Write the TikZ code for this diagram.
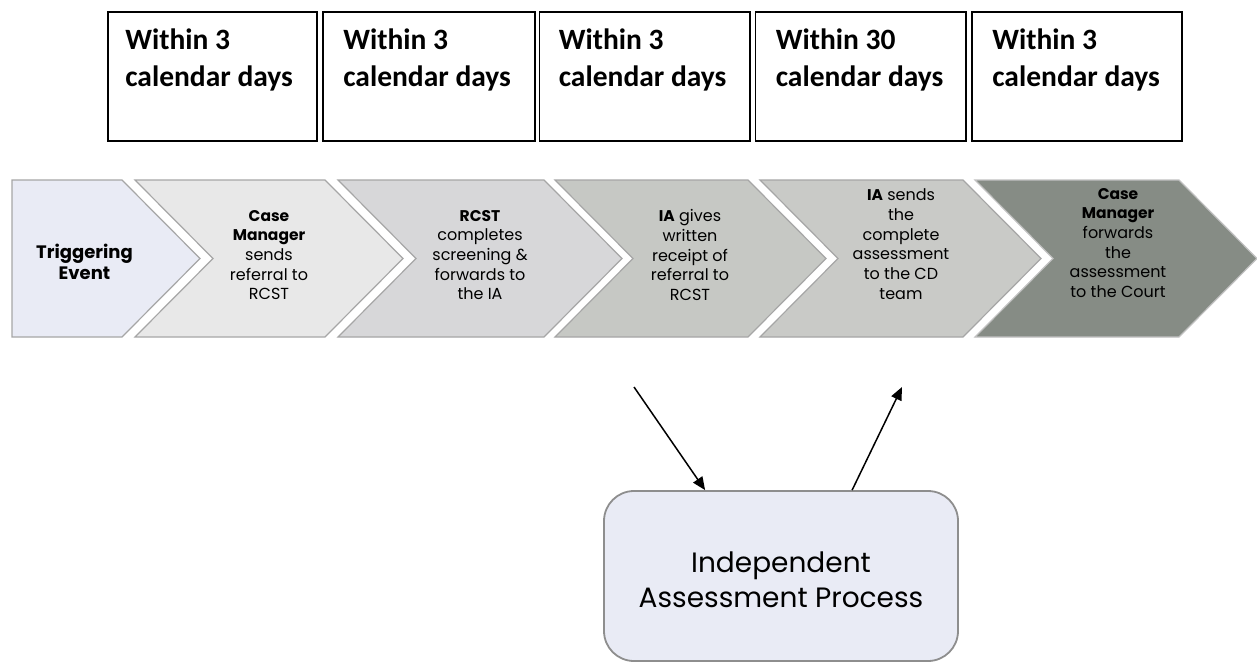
\documentclass[tikz,border=0pt]{standalone}
\usepackage{fontspec}
\setmainfont{Carlito}
\newfontfamily\gothic{Poppins}
\usetikzlibrary{arrows.meta,calc}
\definecolor{cA}{HTML}{E9EBF5}
\definecolor{cB}{HTML}{E8E8E8}
\definecolor{cC}{HTML}{D7D7D9}
\definecolor{cD}{HTML}{C6C8C4}
\definecolor{cE}{HTML}{C9CAC7}
\definecolor{cF}{HTML}{868C85}
\definecolor{bord}{HTML}{A6A6A6}
\definecolor{iapbord}{HTML}{8E8E8E}
\newcommand{\bw}[1]{{\fontsize{15.5}{19.5}\selectfont\bfseries #1}}
\tikzset{
  daybox/.style={draw=black, line width=1.8pt, inner sep=0pt, minimum height=129pt},
  daytext/.style={anchor=north west, inner sep=0pt, align=left, font=\bfseries\fontsize{29.5}{37}\selectfont},
  chev/.style={draw=bord, line width=1.2pt},
  chevtext/.style={align=center, inner sep=0pt, font=\gothic\fontsize{16}{19.7}\selectfont},
  iapbox/.style={draw=iapbord, line width=1.8pt, fill=cA, rounded corners=30pt, minimum width=354pt, minimum height=170pt},
  iaptext/.style={align=center, inner sep=0pt, font=\gothic\fontsize{28}{35}\selectfont},
  conn/.style={line width=1.5pt, -{Triangle[length=13pt,width=11pt]}}
}
\begin{document}
\begin{tikzpicture}[x=1pt,y=-1pt]
\useasboundingbox[fill=white] (0,0) rectangle (1257,664);
% top boxes
\node[daybox, minimum width=209pt] (b1) at (212.5,76.5) {};
\node[daybox, minimum width=212pt] (b2) at (429,76.5) {};
\node[daybox, minimum width=210.5pt] (b3) at (644.75,76.5) {};
\node[daybox, minimum width=210.5pt] (b4) at (860.75,76.5) {};
\node[daybox, minimum width=210pt] (b5) at (1077,76.5) {};
\node[daytext] (d1) at ($(b1.north west)+(18,17)$) {Within 3\\calendar days};
\node[daytext] (d2) at ($(b2.north west)+(21,17)$) {Within 3\\calendar days};
\node[daytext] (d3) at ($(b3.north west)+(20,17)$) {Within 3\\calendar days};
\node[daytext] (d4) at ($(b4.north west)+(21,17)$) {Within 30\\calendar days};
\node[daytext] (d5) at ($(b5.north west)+(21,17)$) {Within 3\\calendar days};
% chevrons
\path[chev, fill=cA] (12,180) -- (122,180) -- (200,258.5) -- (122,337) -- (12,337) -- cycle;
\path[chev, fill=cB] (135,180) -- (325,180) -- (403,258.5) -- (325,337) -- (135,337) -- (213,258.5) -- cycle;
\path[chev, fill=cC] (338,180) -- (544,180) -- (622,258.5) -- (544,337) -- (338,337) -- (416,258.5) -- cycle;
\path[chev, fill=cD] (555,180) -- (748,180) -- (826,258.5) -- (748,337) -- (555,337) -- (633,258.5) -- cycle;
\path[chev, fill=cE] (760,180) -- (963,180) -- (1041,258.5) -- (963,337) -- (760,337) -- (838,258.5) -- cycle;
\path[chev, draw=bord!70, fill=cF] (975,180) -- (1179,180) -- (1257,258.5) -- (1179,337) -- (975,337) -- (1053,258.5) -- cycle;
\node[chevtext, font=\gothic\bfseries\fontsize{18}{21}\selectfont] (t1) at (84.5,262) {Triggering\\Event};
\node[chevtext] (t2) at (269,255) {\bw{Case}\\\bw{Manager}\\sends\\referral to\\RCST};
\node[chevtext] (t3) at (480,255) {\bw{RCST}\\completes\\screening \&\\forwards to\\the IA};
\node[chevtext] (t4) at (690,255) {\bw{IA} gives\\written\\receipt of\\referral to\\RCST};
\node[chevtext] (t5) at (901,244) {\bw{IA} sends\\the\\complete\\assessment\\to the CD\\team};
\node[chevtext] (t6) at (1118,243) {\bw{Case}\\\bw{Manager}\\forwards\\the\\assessment\\to the Court};
% independent assessment process
\node[iapbox] (iap) at (781,576) {};
\node[iaptext] (iapt) at ($(iap.center)+(0,4)$) {Independent\\Assessment Process};
\coordinate (a1s) at (634,387);
\coordinate (a2e) at (902,387);
\draw[conn] (a1s) -- ($(iap.north west)+(102,0)$);
\draw[conn] ($(iap.north west)+(249,0)$) -- (a2e);
\end{tikzpicture}
\end{document}
